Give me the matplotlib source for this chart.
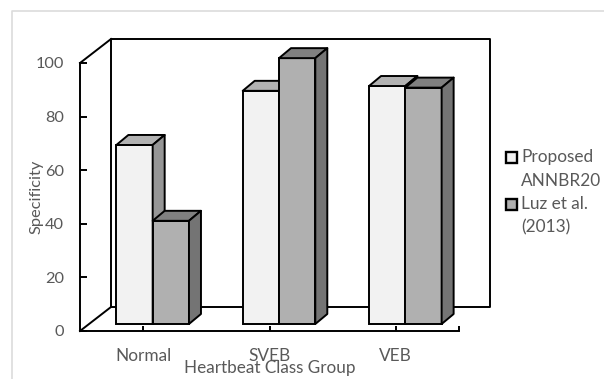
import matplotlib
matplotlib.use("Agg")
import matplotlib.pyplot as plt
from matplotlib.patches import Polygon, Rectangle

# values
categories = ["Normal", "SVEB", "VEB"]
proposed = [66.8, 87.0, 88.8]
luz = [38.5, 99.2, 88.2]
y_ticks = [0, 20, 40, 60, 80, 100]
series_names = ["Proposed\nANNBR20", "Luz et al.\n(2013)"]

W, H = 604, 379
TEXT = "#595959"
FONT = "Lato"
plt.rcParams["font.family"] = [FONT, "DejaVu Sans"]

fig = plt.figure(figsize=(W / 100, H / 100), dpi=100, facecolor="white")


def fx(px):
    return px / W


def fy(py):
    return 1 - py / H


# front plane of the fake 3D box, in pixels: x 80..459, y 331..63
ax = fig.add_axes([fx(80), fy(331), fx(459 - 80), (331 - 63) / H])
ax.set_xlim(-0.5, 2.5)
ax.set_ylim(0, 100)
ax.patch.set_alpha(0)

px_x = 3 / (459 - 80)
px_y = 100 / (331 - 63)

for s in ["top", "right"]:
    ax.spines[s].set_visible(False)
for s in ["left", "bottom"]:
    ax.spines[s].set_linewidth(1.4)
    ax.spines[s].set_zorder(6)

# back wall and the connecting edges
wall_dx = 31 * px_x
wall_dy = 24 * px_y
edge = dict(color="black", lw=1.4, clip_on=False, zorder=1, solid_capstyle="projecting")
ax.plot([-0.5 + wall_dx, -0.5 + wall_dx, 2.5 + wall_dx, 2.5 + wall_dx, -0.5 + wall_dx],
        [wall_dy, 100 + wall_dy, 100 + wall_dy, wall_dy, wall_dy], **edge)
ax.plot([-0.5, -0.5 + wall_dx], [0, wall_dy], **edge)
ax.plot([-0.5, -0.5 + wall_dx], [100, 100 + wall_dy], **edge)

# bars sit a little inside the box
bar_w = 36.3 * px_x
off_x = 9.5 * px_x
floor = 7 * px_y
top_dx = 12 * px_x
top_dy = 10 * px_y
lw_bar = 1.4


def draw_bar(x0, val, front, top, side):
    ax.bar(x0, val, width=bar_w, bottom=floor, align="edge", facecolor=front,
           edgecolor="black", linewidth=lw_bar, zorder=3, clip_on=False)
    y1 = floor + val
    x1 = x0 + bar_w
    ax.add_patch(Polygon([(x0, y1), (x1, y1), (x1 + top_dx, y1 + top_dy), (x0 + top_dx, y1 + top_dy)],
                         closed=True, facecolor=top, edgecolor="black", linewidth=lw_bar,
                         joinstyle="round", zorder=3, clip_on=False))
    ax.add_patch(Polygon([(x1, floor), (x1 + top_dx, floor + top_dy), (x1 + top_dx, y1 + top_dy), (x1, y1)],
                         closed=True, facecolor=side, edgecolor="black", linewidth=lw_bar,
                         joinstyle="round", zorder=3, clip_on=False))


for i in range(len(categories)):
    left = i + off_x - bar_w
    draw_bar(left, proposed[i], "#f2f2f2", "#b2b2b2", "#969696")
    draw_bar(left + bar_w, luz[i], "#b0b0b0", "#808080", "#747474")

ax.set_yticks(y_ticks)
ax.tick_params(axis="y", direction="in", length=5.2, width=1.4, labelsize=11.8,
               labelcolor=TEXT, pad=11.5)
ax.set_xticks([0, 1, 2, 2.5])
ax.set_xticklabels(categories + [""])
ax.tick_params(axis="x", direction="in", length=3.6, width=1.4, labelsize=12.4,
               labelcolor=TEXT, pad=12.5)
for t in ax.get_xticklines() + ax.get_yticklines():
    t.set_zorder(6)

fig.text(fx(270), fy(368), "Heartbeat Class Group", color=TEXT, fontsize=12.3,
         ha="center", va="center")
fig.text(fx(37), fy(197), "Specificity", color=TEXT, fontsize=11.8, rotation=90,
         ha="center", va="center")

# legend, placed by hand like the original
for name, color, y_top in zip(series_names, ["#f2f2f2", "#b0b0b0"], [152, 199]):
    fig.add_artist(Rectangle((fx(506), fy(y_top + 11)), 11 / W, 11 / H, transform=fig.transFigure,
                             facecolor=color, edgecolor="black", linewidth=1.7))
    fig.text(fx(521), fy(y_top + 5), name.split("\n")[0], color=TEXT, fontsize=12.4,
             ha="left", va="center")
    fig.text(fx(521), fy(y_top + 28.5), name.split("\n")[1], color=TEXT, fontsize=12.4,
             ha="left", va="center")

# light border of the pasted chart
fig.add_artist(plt.Line2D([fx(12), fx(12), 1], [0, fy(11), fy(11)], color="#dcdcdc", lw=1.2))

fig.savefig("out.png", dpi=100)
